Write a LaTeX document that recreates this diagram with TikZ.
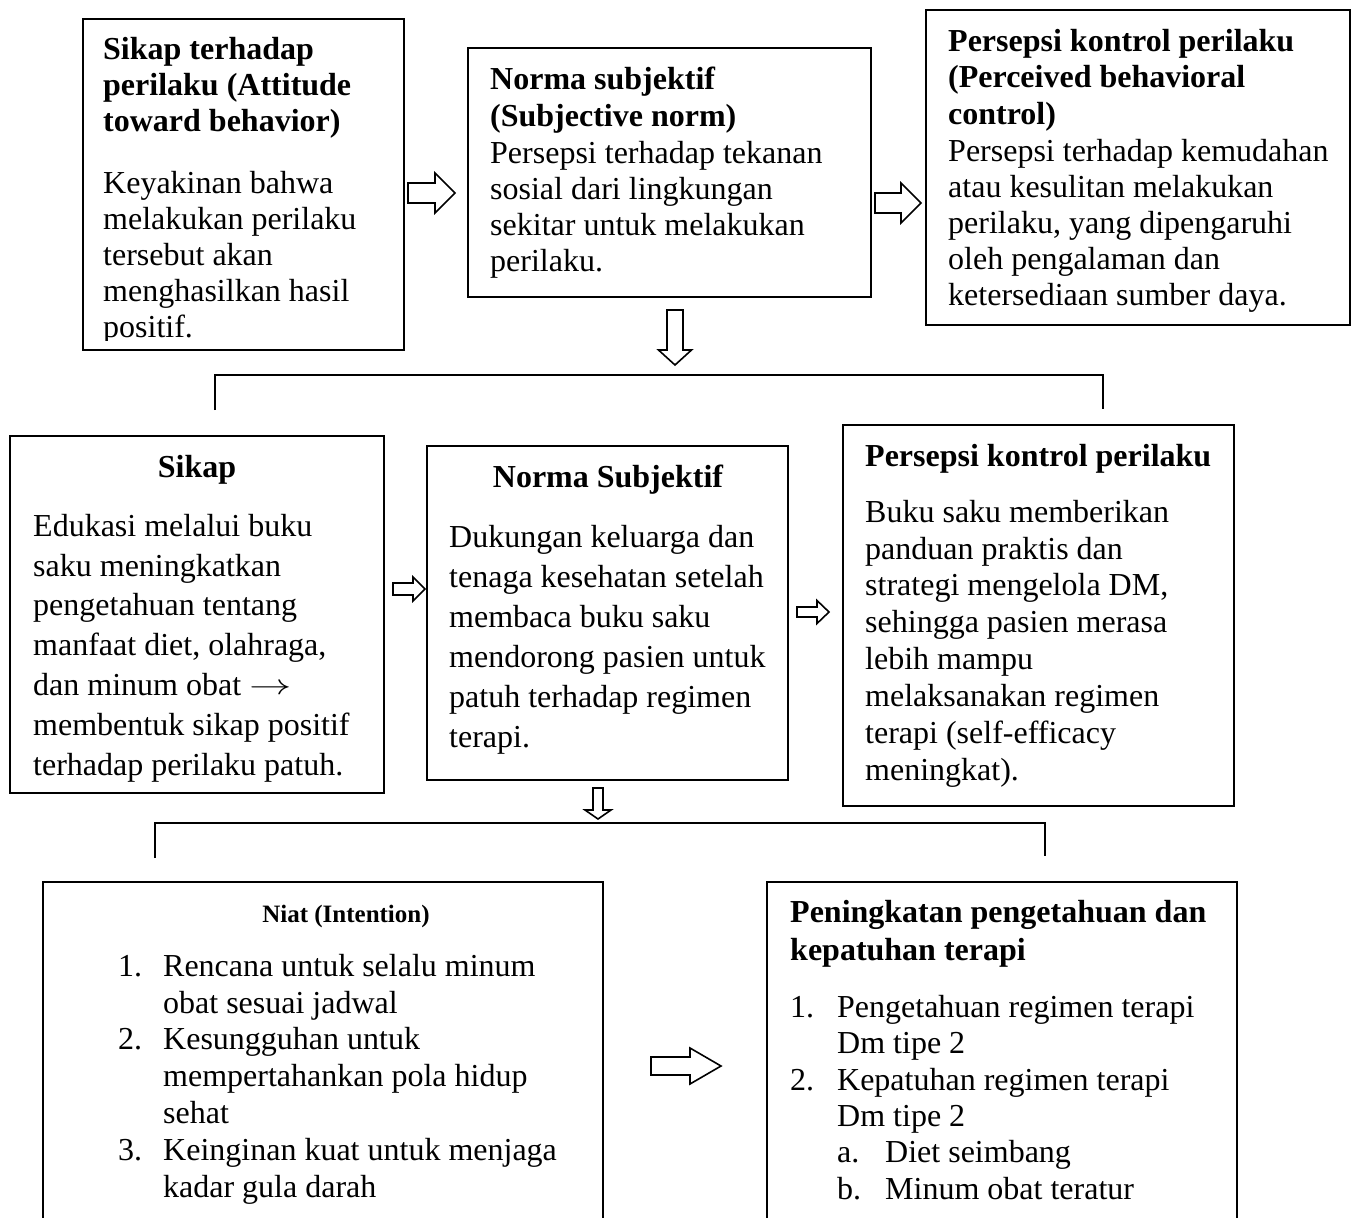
\documentclass[tikz,border=0pt]{standalone}
\usepackage{fontspec}
\setmainfont{Liberation Serif}
\newcommand{\TS}{\rule{0pt}{24pt}}
\newcommand{\myRArrow}[6]{% x0 xb x1 yc halfshaft halfhead
  \draw[blk] (#1,#4-#5) -- (#2,#4-#5) -- (#2,#4-#6) -- (#3,#4) -- (#2,#4+#6) -- (#2,#4+#5) -- (#1,#4+#5) -- cycle;}
\newcommand{\myDArrow}[6]{% xc y0 yb y1 halfshaft halfhead
  \draw[blk] (#1-#5,#2) -- (#1+#5,#2) -- (#1+#5,#3) -- (#1+#6,#3) -- (#1,#4) -- (#1-#6,#3) -- (#1-#5,#3) -- cycle;}
\newcommand{\myArrowSym}{\raisebox{1pt}{\scalebox{1.7}[1.15]{$\rightarrow$}}}
\tikzset{
  box/.style={draw, line width=2.6pt, inner sep=0pt},
  boxline/.style={line width=2.6pt},
  txt/.style={anchor=north west, inner sep=0pt, align=left, font=\fontsize{32}{36}\selectfont},
  txtb/.style={anchor=north west, inner sep=0pt, align=left, font=\fontsize{32}{36}\selectfont\bfseries},
  bar/.style={line width=1.3pt},
  blk/.style={line width=1.6pt, line join=miter, fill=white},
}
\begin{document}
\begin{tikzpicture}[x=1pt,y=-1pt]
\useasboundingbox[fill=white] (0,0) rectangle (1355,1218);

% ---------- row 1 ----------
\node[box, minimum width=321pt, minimum height=331pt] (b1) at (243.5,184.5) {};
\node[box, minimum width=403pt, minimum height=249pt] (b2) at (669.5,172.5) {};
\node[box, minimum width=424pt, minimum height=315pt] (b3) at (1138,167.5) {};

\node[txtb] (h1) at (103,35) {\TS Sikap terhadap\\perilaku (Attitude\\toward behavior)};
\begin{scope}
\clip (83,19) rectangle (404,340);
\node[txt] (t1) at (103,169) {\TS Keyakinan bahwa\\melakukan perilaku\\tersebut akan\\menghasilkan hasil\\positif.};
\end{scope}

\node[txtb, font=\fontsize{32}{37}\selectfont\bfseries] (h2) at (490,65) {\TS Norma subjektif\\(Subjective norm)};
\node[txt] (t2) at (490,139) {\TS Persepsi terhadap tekanan\\sosial dari lingkungan\\sekitar untuk melakukan\\perilaku.};

\node[txtb, font=\fontsize{32}{36.5}\selectfont\bfseries] (h3) at (948,27) {\TS Persepsi kontrol perilaku\\(Perceived behavioral\\control)};
\node[txt] (t3) at (948,137) {\TS Persepsi terhadap kemudahan\\atau kesulitan melakukan\\perilaku, yang dipengaruhi\\oleh pengalaman dan\\ketersediaan sumber daya.};

\myRArrow{408}{435}{455}{193}{10}{20}
\myRArrow{875}{901}{921}{203}{10}{20}
\myDArrow{675}{310}{350}{365}{8}{16.5}

\draw[bar] (215,410) -- (215,375) -- (1103,375) -- (1103,409);

% ---------- row 2 ----------
\node[box, minimum width=374pt, minimum height=357pt] (b4) at (197,614.5) {};
\node[box, minimum width=361pt, minimum height=334pt] (b5) at (607.5,613) {};
\node[box, minimum width=391pt, minimum height=381pt] (b6) at (1038.5,615.5) {};

\node[anchor=base, inner sep=0pt, font=\fontsize{32}{36}\selectfont\bfseries] (h4) at (197,477) {Sikap};
\node[txt, font=\fontsize{32}{39.8}\selectfont] (t4) at (33,512) {\TS Edukasi melalui buku\\saku meningkatkan\\pengetahuan tentang\\manfaat diet, olahraga,\\dan minum obat \myArrowSym\\membentuk sikap positif\\terhadap perilaku patuh.};

\node[anchor=base, inner sep=0pt, font=\fontsize{32}{36}\selectfont\bfseries] (h5) at (608,487) {Norma Subjektif};
\node[txt, font=\fontsize{32}{40}\selectfont] (t5) at (449,523) {\TS Dukungan keluarga dan\\tenaga kesehatan setelah\\membaca buku saku\\mendorong pasien untuk\\patuh terhadap regimen\\terapi.};

\node[anchor=base west, inner sep=0pt, font=\fontsize{32}{36}\selectfont\bfseries] (h6) at (865,466) {Persepsi kontrol perilaku};
\node[txt, font=\fontsize{32}{36.86}\selectfont] (t6) at (865,498) {\TS Buku saku memberikan\\panduan praktis dan\\strategi mengelola DM,\\sehingga pasien merasa\\lebih mampu\\melaksanakan regimen\\terapi (self-efficacy\\meningkat).};

\myRArrow{393}{413}{425}{589}{6}{12}
\myRArrow{797}{817}{829}{612}{5}{11.5}
\myDArrow{598}{788}{810}{819}{5}{13}

\draw[bar] (155,858) -- (155,823) -- (1045,823) -- (1045,856);

% ---------- row 3 ----------
\draw[boxline] (43,1218) -- (43,882) -- (603,882) -- (603,1218);
\draw[boxline] (767,1218) -- (767,882) -- (1237,882) -- (1237,1218);

\node[anchor=base, inner sep=0pt, font=\fontsize{25}{29}\selectfont\bfseries] (h7) at (346,922) {Niat (Intention)};
\node[txt, font=\fontsize{32}{36.8}\selectfont] (t7) at (118,952) {\TS\makebox[45pt][l]{1.}Rencana untuk selalu minum\\\hspace*{45pt}obat sesuai jadwal\\\makebox[45pt][l]{2.}Kesungguhan untuk\\\hspace*{45pt}mempertahankan pola hidup\\\hspace*{45pt}sehat\\\makebox[45pt][l]{3.}Keinginan kuat untuk menjaga\\\hspace*{45pt}kadar gula darah};

\node[txtb, font=\fontsize{32}{38}\selectfont\bfseries] (h8) at (790,898) {\TS Peningkatan pengetahuan dan\\kepatuhan terapi};
\node[txt, font=\fontsize{32}{36.4}\selectfont] (t8) at (790,993) {\TS\makebox[47pt][l]{1.}Pengetahuan regimen terapi\\\hspace*{47pt}Dm tipe 2\\\makebox[47pt][l]{2.}Kepatuhan regimen terapi\\\hspace*{47pt}Dm tipe 2\\\hspace*{47pt}\makebox[48pt][l]{a.}Diet seimbang\\\hspace*{47pt}\makebox[48pt][l]{b.}Minum obat teratur};

\myRArrow{651}{690}{721}{1066}{9}{18}
\end{tikzpicture}
\end{document}
